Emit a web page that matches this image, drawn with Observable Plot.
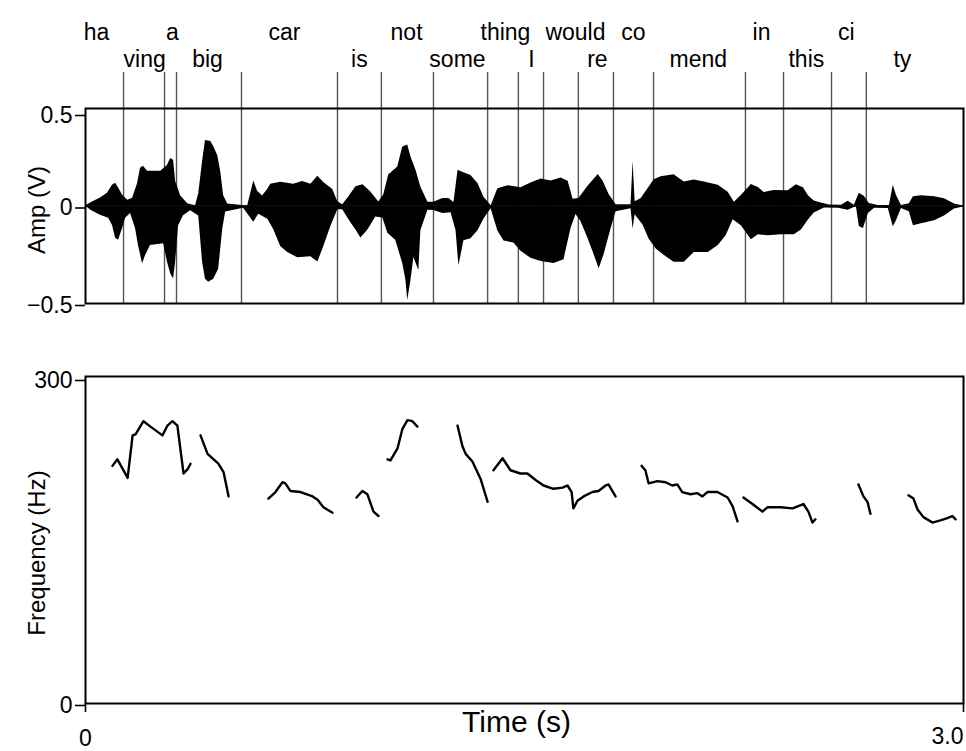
<!DOCTYPE html>
<html><head><meta charset="utf-8">
<script src="https://cdn.jsdelivr.net/npm/d3@7"></script>
<script src="https://cdn.jsdelivr.net/npm/@observablehq/plot@0.6"></script>
<style>
body{margin:0;background:#fff;}
#chart{width:966px;}
#chart svg{display:block;}
</style></head><body><div id="chart"></div>
<script>
// Syllable labels (time in s), row 1 = upper line, row 2 = lower line
const wordText = ["ha","ving","a","big","car","is","not","some","thing","I","would","re","co","mend","in","this","ci","ty"];
const wordT = [0.038,0.202,0.297,0.417,0.680,0.936,1.097,1.271,1.435,1.524,1.674,1.749,1.872,2.094,2.310,2.463,2.600,2.791];
const wordRow = [1,2,1,2,1,2,1,2,1,2,1,2,1,2,1,2,1,2];

// Syllable boundary times (s)
const boundaryT = [0.130,0.270,0.311,0.533,0.861,1.011,1.189,1.374,1.479,1.565,1.684,1.804,1.941,2.255,2.385,2.549,2.668];

// Waveform envelope [time s, amplitude V]
const upperEnvelope = [[0,0],[0.017,0.015],[0.051,0.041],[0.075,0.066],[0.092,0.107],[0.103,0.117],[0.113,0.092],[0.127,0.055],[0.144,0.029],[0.161,0.040],
[0.178,0.116],[0.188,0.194],[0.198,0.204],[0.212,0.178],[0.257,0.178],[0.280,0.208],[0.291,0.244],[0.301,0.234],[0.308,0.126],[0.325,0.053],
[0.349,0.012],[0.376,0.001],[0.387,0.063],[0.400,0.228],[0.410,0.336],[0.428,0.331],[0.438,0.305],[0.452,0.258],[0.462,0.176],[0.472,0.052],
[0.486,0.010],[0.554,0.0],[0.575,0.128],[0.588,0.076],[0.605,0.051],[0.623,0.086],[0.633,0.112],[0.667,0.122],[0.711,0.111],[0.742,0.126],
[0.770,0.111],[0.794,0.152],[0.814,0.121],[0.845,0.084],[0.862,0.022],[0.879,0.006],[0.900,0.047],[0.924,0.099],[0.948,0.109],[0.975,0.072],
[1.002,0.021],[1.019,0.056],[1.036,0.159],[1.067,0.200],[1.084,0.303],[1.101,0.313],[1.112,0.251],[1.129,0.184],[1.146,0.096],[1.170,0.019],
[1.190,0.019],[1.221,0.039],[1.242,0.039],[1.259,0.018],[1.273,0.183],[1.290,0.172],[1.317,0.157],[1.341,0.115],[1.362,0.043],[1.386,0.001],
[1.409,0.089],[1.444,0.104],[1.488,0.093],[1.522,0.118],[1.557,0.139],[1.591,0.128],[1.625,0.143],[1.649,0.127],[1.666,0.034],[1.686,0.039],
[1.717,0.101],[1.752,0.162],[1.769,0.126],[1.789,0.059],[1.813,0.007],[1.864,0.007],[1.871,0.228],[1.878,0.022],[1.898,0.037],[1.922,0.089],
[1.943,0.134],[1.967,0.150],[2.011,0.160],[2.046,0.123],[2.080,0.133],[2.114,0.123],[2.162,0.107],[2.196,0.070],[2.217,0.019],[2.241,0.054],
[2.275,0.110],[2.299,0.095],[2.319,0.069],[2.353,0.079],[2.401,0.078],[2.429,0.109],[2.453,0.093],[2.470,0.052],[2.490,0.026],[2.514,0.015],
[2.542,0.005],[2.583,0.004],[2.606,0.025],[2.627,0.004],[2.644,0.065],[2.661,0.050],[2.678,0.013],[2.709,0.003],[2.747,0.003],[2.760,0.106],
[2.771,0.054],[2.788,0.002],[2.815,0.012],[2.829,0.048],[2.856,0.053],[2.901,0.047],[2.935,0.037],[2.969,0.010],[3.0,0]];
const lowerEnvelope = [[0,0],[0.017,-0.021],[0.051,-0.047],[0.079,-0.063],[0.092,-0.099],[0.103,-0.166],[0.113,-0.176],[0.127,-0.114],[0.137,-0.063],[0.154,-0.038],
[0.171,-0.115],[0.181,-0.203],[0.195,-0.296],[0.205,-0.255],[0.222,-0.203],[0.267,-0.193],[0.280,-0.287],[0.291,-0.348],[0.301,-0.374],[0.308,-0.286],
[0.318,-0.101],[0.335,-0.050],[0.359,-0.024],[0.387,-0.051],[0.400,-0.288],[0.410,-0.375],[0.421,-0.391],[0.438,-0.376],[0.455,-0.324],[0.469,-0.118],
[0.479,-0.031],[0.540,-0.011],[0.575,-0.083],[0.592,-0.042],[0.623,-0.068],[0.643,-0.120],[0.667,-0.208],[0.691,-0.239],[0.725,-0.265],[0.770,-0.260],
[0.794,-0.287],[0.814,-0.209],[0.838,-0.107],[0.862,-0.019],[0.879,-0.019],[0.900,-0.071],[0.924,-0.123],[0.941,-0.164],[0.965,-0.123],[0.992,-0.057],
[1.016,-0.062],[1.033,-0.140],[1.060,-0.176],[1.084,-0.295],[1.095,-0.382],[1.101,-0.485],[1.112,-0.382],[1.122,-0.264],[1.139,-0.331],[1.146,-0.125],
[1.170,-0.022],[1.190,-0.023],[1.221,-0.038],[1.249,-0.034],[1.266,-0.126],[1.276,-0.307],[1.293,-0.178],[1.317,-0.168],[1.341,-0.127],[1.362,-0.065],
[1.386,-0.014],[1.409,-0.128],[1.430,-0.180],[1.464,-0.190],[1.488,-0.232],[1.522,-0.268],[1.557,-0.284],[1.601,-0.295],[1.635,-0.275],[1.659,-0.115],
[1.676,-0.043],[1.693,-0.079],[1.717,-0.167],[1.738,-0.250],[1.755,-0.322],[1.772,-0.250],[1.796,-0.116],[1.813,-0.029],[1.864,-0.014],[1.871,-0.118],
[1.878,-0.045],[1.905,-0.097],[1.926,-0.170],[1.950,-0.221],[1.977,-0.253],[2.011,-0.289],[2.046,-0.289],[2.080,-0.238],[2.128,-0.239],[2.162,-0.203],
[2.189,-0.152],[2.213,-0.070],[2.241,-0.101],[2.275,-0.173],[2.299,-0.147],[2.333,-0.153],[2.378,-0.148],[2.422,-0.148],[2.446,-0.123],[2.470,-0.072],
[2.490,-0.036],[2.525,-0.010],[2.573,-0.011],[2.606,-0.022],[2.634,-0.002],[2.644,-0.105],[2.658,-0.115],[2.675,-0.038],[2.696,-0.012],[2.743,-0.013],
[2.760,-0.106],[2.771,-0.075],[2.788,-0.013],[2.815,-0.029],[2.829,-0.101],[2.856,-0.091],[2.901,-0.076],[2.935,-0.051],[2.969,-0.015],[3.0,-0.005]];

// Pitch contour segments [time s, frequency Hz]
const pitchSegments = [
 [[0.092,218],[0.109,224],[0.144,207],[0.161,246],[0.171,247],[0.198,259],[0.222,254],[0.263,246],[0.280,255],[0.297,259],[0.314,255],[0.335,211],[0.349,215],[0.359,220]],
 [[0.393,246],[0.417,229],[0.454,220],[0.472,212],[0.489,190]],
 [[0.625,188],[0.649,194],[0.673,203],[0.683,202],[0.700,195],[0.735,194],[0.776,190],[0.793,187],[0.813,180],[0.844,175]],
 [[0.926,189],[0.946,195],[0.963,192],[0.984,176],[1.001,172]],
 [[1.032,224],[1.042,223],[1.066,234],[1.083,252],[1.100,260],[1.117,259],[1.134,254]],
 [[1.271,255],[1.288,236],[1.299,229],[1.322,222],[1.350,206],[1.374,185]],
 [[1.394,214],[1.425,225],[1.452,214],[1.486,211],[1.510,211],[1.538,205],[1.565,200],[1.599,197],[1.630,198],[1.647,200],[1.661,194],[1.667,179],[1.681,186],[1.702,190],[1.732,194],[1.753,195],[1.777,200],[1.787,201],[1.811,190]],
 [[1.900,218],[1.913,214],[1.924,202],[1.954,204],[1.982,203],[2.005,200],[2.022,201],[2.039,194],[2.067,192],[2.091,193],[2.108,190],[2.125,194],[2.159,194],[2.194,189],[2.211,181],[2.228,167]],
 [[2.248,189],[2.279,183],[2.313,176],[2.330,180],[2.375,180],[2.416,179],[2.453,183],[2.470,176],[2.484,166],[2.494,169]],
 [[2.641,201],[2.658,190],[2.672,185],[2.682,174]],
 [[2.812,191],[2.829,188],[2.843,178],[2.863,171],[2.894,166],[2.921,168],[2.945,170],[2.962,172],[2.973,169]]
];

// Axis ticks and labels
const ampTicks = [-0.5, 0, 0.5];
const ampTickLabels = ["\u22120.5", "0", "0.5"];
const freqTicks = [0, 300];
const freqTickLabels = ["0", "300"];
const timeTicks = [0, 3];
const timeTickLabels = ["0", "3.0"];
const ampLabel = "Amp (V)";
const freqLabel = "Frequency (Hz)";
const timeLabel = "Time (s)";

const font = "'Liberation Sans', Arial, Helvetica, sans-serif";
const words = wordText.map((w, i) => ({w, t: wordT[i], row: wordRow[i]}));
const pitchPoints = pitchSegments.flatMap((seg, i) => seg.map(([t, hz]) => ({t, hz, seg: i})));
const lbl = (ticks, labels) => d => labels[ticks.indexOf(d)];

const topChart = Plot.plot({
  width: 966, height: 330,
  marginTop: 108, marginBottom: 27, marginLeft: 85, marginRight: 3,
  style: {fontFamily: font, background: "white", color: "black", overflow: "visible"},
  x: {domain: [0, 3], axis: null},
  y: {domain: [-0.5, 0.5], axis: null},
  marks: [
    Plot.ruleX(boundaryT, {stroke: "#555", strokeWidth: 1.4, insetTop: -36}),
    Plot.areaY(upperEnvelope, {x: d => d[0], y1: 0, y2: d => d[1], fill: "black"}),
    Plot.areaY(lowerEnvelope, {x: d => d[0], y1: 0, y2: d => d[1], fill: "black"}),
    Plot.ruleY([0], {stroke: "black", strokeWidth: 1.6}),
    Plot.frame({stroke: "black", strokeWidth: 2}),
    Plot.axisY([0.5], {label: null, tickSize: 10, tickPadding: 3, strokeWidth: 1.6, fontSize: 23, dy: 7, tickFormat: lbl(ampTicks, ampTickLabels)}),
    Plot.axisY([0, -0.5], {label: null, tickSize: 10, tickPadding: 3, strokeWidth: 1.6, fontSize: 23, dy: 2, tickFormat: lbl(ampTicks, ampTickLabels)}),
    Plot.text(words.filter(d => d.row === 1), {x: "t", text: "w", frameAnchor: "top", dy: -85, fontSize: 23}),
    Plot.text(words.filter(d => d.row === 2), {x: "t", text: "w", frameAnchor: "top", dy: -58, fontSize: 23}),
    Plot.text([ampLabel], {frameAnchor: "left", textAnchor: "middle", dx: -48, dy: 4, rotate: -90, fontSize: 24})
  ]
});

const bottomChart = Plot.plot({
  width: 966, height: 421,
  marginTop: 46, marginBottom: 48, marginLeft: 85, marginRight: 3,
  style: {fontFamily: font, background: "white", color: "black", overflow: "visible"},
  x: {domain: [0, 3], axis: null},
  y: {domain: [0, 300], axis: null},
  marks: [
    Plot.line(pitchPoints, {x: "t", y: "hz", z: "seg", stroke: "black", strokeWidth: 2.4, strokeLinejoin: "round", strokeLinecap: "round"}),
    Plot.frame({stroke: "black", strokeWidth: 2}),
    Plot.axisY([300], {label: null, tickSize: 10, tickPadding: 3, strokeWidth: 1.6, fontSize: 23, dy: 4, tickFormat: lbl(freqTicks, freqTickLabels)}),
    Plot.axisY([0], {label: null, tickSize: 10, tickPadding: 3, strokeWidth: 1.6, fontSize: 23, dy: 2, tickFormat: lbl(freqTicks, freqTickLabels)}),
    Plot.axisX([0], {label: null, tickSize: 9, tickPadding: 17, strokeWidth: 1.6, fontSize: 23, tickFormat: lbl(timeTicks, timeTickLabels)}),
    Plot.axisX([3], {label: null, tickSize: 9, tickPadding: 15, strokeWidth: 1.6, fontSize: 23, textAnchor: "end", tickFormat: lbl(timeTicks, timeTickLabels)}),
    Plot.text([freqLabel], {frameAnchor: "left", textAnchor: "middle", dx: -48, dy: 13, rotate: -90, fontSize: 24}),
    Plot.text([timeLabel], {frameAnchor: "bottom", dx: -8, dy: 28, fontSize: 30})
  ]
});

document.getElementById("chart").append(topChart, bottomChart);
</script></body></html>
